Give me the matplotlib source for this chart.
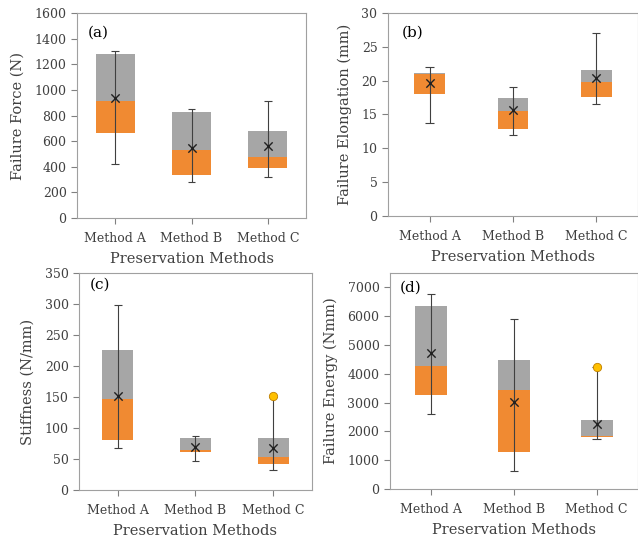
import matplotlib
matplotlib.use("Agg")
import matplotlib.pyplot as plt

methods = ["Method A", "Method B", "Method C"]

# Failure Force (N)
force_q1 = [660, 335, 390]
force_med = [910, 530, 475]
force_q3 = [1280, 830, 680]
force_lo = [420, 280, 320]
force_hi = [1300, 850, 910]
force_mean = [940, 545, 560]
force_out = [[], [], []]

# Failure Elongation (mm)
elong_q1 = [18.0, 12.9, 17.6]
elong_med = [21.0, 15.5, 19.8]
elong_q3 = [21.2, 17.4, 21.6]
elong_lo = [13.7, 11.9, 16.5]
elong_hi = [22.0, 19.0, 27.1]
elong_mean = [19.6, 15.6, 20.4]
elong_out = [[], [], []]

# Stiffness (N/mm)
stiff_q1 = [80, 62, 42]
stiff_med = [146, 65, 54]
stiff_q3 = [226, 84, 84]
stiff_lo = [68, 47, 33]
stiff_hi = [298, 87, 150]
stiff_mean = [151, 70, 68]
stiff_out = [[], [], [152]]

# Failure Energy (Nmm)
energy_q1 = [3280, 1280, 1800]
energy_med = [4260, 3420, 1840]
energy_q3 = [6350, 4480, 2400]
energy_lo = [2620, 630, 1730]
energy_hi = [6770, 5900, 4250]
energy_mean = [4710, 3020, 2270]
energy_out = [[], [], [4250]]

ORANGE = "#F08A32"
GRAY = "#A6A6A6"
DARK = "#404040"
SPINE = "#A0A0A0"

plt.rcParams['font.family'] = ['DejaVu Serif']

fig = plt.figure(figsize=(6.38, 5.39), dpi=100)

panels = [
    dict(rect=[0.1207, 0.5955, 0.359, 0.3803], q1=force_q1, med=force_med, q3=force_q3,
         lo=force_lo, hi=force_hi, mean=force_mean, out=force_out, ylim=(0, 1600), step=200,
         ylabel="Failure Force (N)", tag="(a)", tagpos=(0.048, 0.905), width=0.51),
    dict(rect=[0.608, 0.5993, 0.392, 0.3766], q1=elong_q1, med=elong_med, q3=elong_q3,
         lo=elong_lo, hi=elong_hi, mean=elong_mean, out=elong_out, ylim=(0, 30), step=5,
         ylabel="Failure Elongation (mm)", tag="(b)", tagpos=(0.056, 0.905), width=0.37),
    dict(rect=[0.1238, 0.0909, 0.365, 0.4026], q1=stiff_q1, med=stiff_med, q3=stiff_q3,
         lo=stiff_lo, hi=stiff_hi, mean=stiff_mean, out=stiff_out, ylim=(0, 350), step=50,
         ylabel="Stiffness (N/mm)", tag="(c)", tagpos=(0.047, 0.945), width=0.40),
    dict(rect=[0.611, 0.0928, 0.389, 0.4007], q1=energy_q1, med=energy_med, q3=energy_q3,
         lo=energy_lo, hi=energy_hi, mean=energy_mean, out=energy_out, ylim=(0, 7500), step=1000,
         ylabel="Failure Energy (Nmm)", tag="(d)", tagpos=(0.04, 0.93), width=0.39),
]

for p in panels:
    ax = fig.add_axes(p["rect"])
    x = list(range(len(methods)))
    lower = [m - a for a, m in zip(p["q1"], p["med"])]
    upper = [b - m for m, b in zip(p["med"], p["q3"])]
    ax.bar(x, lower, bottom=p["q1"], width=p["width"], color=ORANGE, zorder=2, linewidth=0)
    ax.bar(x, upper, bottom=p["med"], width=p["width"], color=GRAY, zorder=2, linewidth=0)
    ax.vlines(x, p["lo"], p["hi"], color=DARK, linewidth=0.8, zorder=3)
    capw = 0.05
    ax.hlines(p["lo"], [i - capw for i in x], [i + capw for i in x], color=DARK, linewidth=0.8, zorder=3)
    ax.hlines(p["hi"], [i - capw for i in x], [i + capw for i in x], color=DARK, linewidth=0.8, zorder=3)
    ax.scatter(x, p["mean"], marker="x", color="#202020", s=36, linewidths=1.0, zorder=4)
    for i, outs in enumerate(p["out"]):
        for v in outs:
            ax.scatter([i], [v], s=36, color="#FFC000", edgecolor="#C08000", linewidth=0.6, zorder=5)
    ax.set_xlim(-0.5, 2.5)
    ax.set_ylim(*p["ylim"])
    ticks = list(range(p["ylim"][0], int(p["ylim"][1]) + 1, p["step"]))
    ticks = [t for t in ticks if t <= p["ylim"][1]]
    ax.set_yticks(ticks)
    ax.set_xticks(x)
    ax.set_xticklabels(methods)
    for s in ax.spines.values():
        s.set_color(SPINE)
        s.set_linewidth(0.8)
    ax.tick_params(axis="both", colors="#808080", labelcolor=DARK, labelsize=9, length=4, width=0.8)
    ax.tick_params(axis="x", pad=6)
    ax.set_xlabel("Preservation Methods", fontsize=10.5, color=DARK, labelpad=5)
    ax.set_ylabel(p["ylabel"], fontsize=10.5, color=DARK, labelpad=7)
    ax.text(p["tagpos"][0], p["tagpos"][1], p["tag"], transform=ax.transAxes, fontsize=11,
            color="black", va="center", ha="left")

fig.savefig("out.png", dpi=100)
